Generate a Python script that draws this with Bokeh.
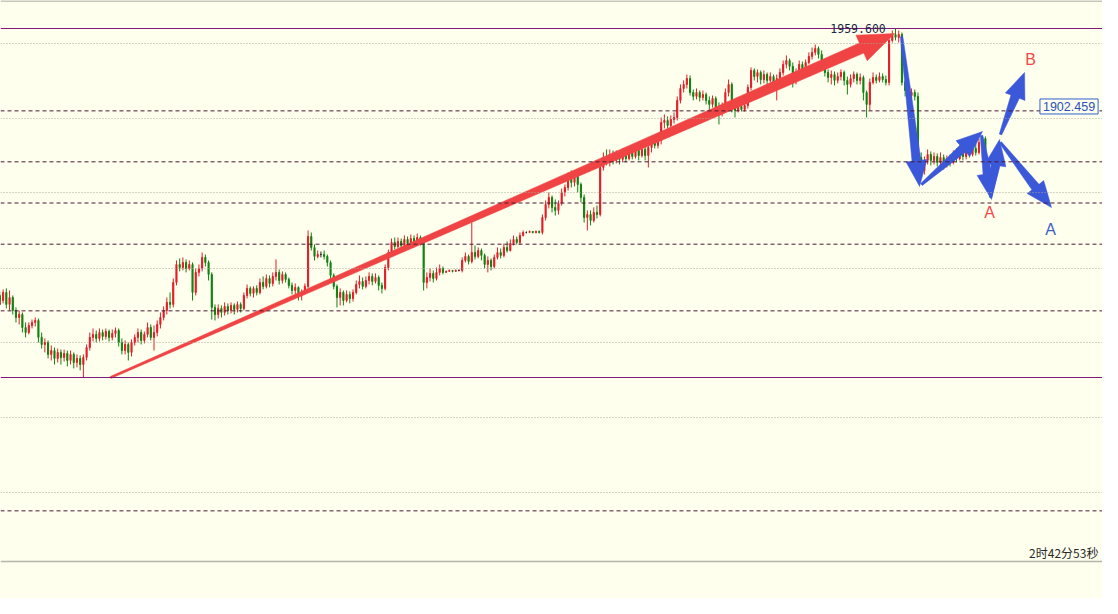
import numpy as np
from bokeh.plotting import figure
from bokeh.models import ColumnDataSource, Span, Label, Range1d
from bokeh.embed import file_html
from bokeh.resources import INLINE

# ---------------- data ----------------
opens = [
    1773.0, 1768.2, 1774.4, 1770.9, 1776.5, 1768.2, 1773.0, 1764.0, 1759.1, 1761.2,
    1752.2, 1748.7, 1753.6, 1755.7, 1757.1, 1745.3, 1740.4, 1741.8, 1733.5, 1736.2,
    1730.7, 1734.9, 1731.4, 1734.2, 1729.3, 1733.5, 1727.9, 1730.7, 1726.5, 1731.4,
    1738.3, 1745.3, 1747.4, 1744.6, 1748.7, 1746.0, 1749.4, 1745.3, 1748.0, 1750.1,
    1741.8, 1736.2, 1740.4, 1734.9, 1741.8, 1745.3, 1748.7, 1743.2, 1747.4, 1752.2,
    1745.3, 1748.7, 1754.3, 1759.1, 1764.0, 1769.6, 1768.2, 1783.4, 1795.9, 1793.8,
    1797.3, 1793.1, 1795.9, 1776.5, 1790.4, 1793.1, 1800.8, 1797.3, 1789.0, 1766.1,
    1761.2, 1765.4, 1762.6, 1766.8, 1764.0, 1767.5, 1764.7, 1768.2, 1765.4, 1774.4,
    1779.3, 1775.8, 1779.3, 1776.5, 1783.4, 1780.7, 1786.2, 1782.7, 1787.6, 1790.4,
    1784.8, 1789.0, 1785.5, 1781.4, 1777.9, 1780.0, 1774.4, 1776.5, 1780.7, 1815.3,
    1807.7, 1801.5, 1802.8, 1802.8, 1801.5, 1797.3, 1788.3, 1780.7, 1773.0, 1776.5,
    1770.9, 1775.1, 1772.3, 1776.5, 1782.0, 1784.1, 1780.7, 1784.8, 1787.6, 1784.1,
    1786.9, 1781.4, 1779.3, 1793.8, 1804.2, 1811.2, 1808.4, 1811.9, 1809.1, 1813.3,
    1810.5, 1813.9, 1811.2, 1814.6, 1811.9, 1783.4, 1786.9, 1789.7, 1786.2, 1790.4,
    1793.1, 1790.4, 1791.1, 1791.8, 1791.1, 1791.8, 1791.8, 1798.7, 1801.5, 1798.0,
    1804.2, 1801.5, 1805.6, 1802.2, 1795.9, 1798.7, 1794.5, 1800.8, 1804.2, 1802.2,
    1807.7, 1805.6, 1810.5, 1813.3, 1811.2, 1816.0, 1818.1, 1818.1, 1818.8, 1818.1,
    1818.8, 1818.1, 1828.5, 1837.5, 1842.4, 1835.5, 1833.4, 1838.2, 1845.9, 1849.3,
    1856.3, 1852.8, 1856.9, 1851.4, 1842.4, 1828.5, 1830.6, 1826.4, 1832.0, 1830.6,
    1863.2, 1870.1, 1866.7, 1872.2, 1868.1, 1871.5, 1868.8, 1872.2, 1869.4, 1873.6,
    1870.8, 1875.0, 1871.5, 1875.7, 1871.5, 1877.1, 1880.5, 1878.5, 1881.9, 1894.4,
    1895.8, 1892.3, 1896.5, 1897.9, 1909.7, 1918.0, 1920.8, 1924.9, 1915.2, 1912.5,
    1915.2, 1911.8, 1913.8, 1909.7, 1906.9, 1911.1, 1904.8, 1901.4, 1905.5, 1915.2,
    1920.8, 1904.8, 1902.7, 1905.5, 1903.4, 1906.2, 1918.7, 1930.5, 1926.3, 1929.1,
    1924.2, 1927.7, 1923.6, 1926.3, 1922.2, 1924.9, 1929.1, 1934.7, 1937.4, 1933.3,
    1923.6, 1929.1, 1934.7, 1930.5, 1936.0, 1940.2, 1943.0, 1945.8, 1941.6, 1934.7,
    1929.1, 1925.6, 1927.7, 1923.6, 1926.3, 1929.1, 1923.6, 1920.8, 1924.9, 1927.7,
    1923.6, 1925.6, 1915.2, 1906.9, 1922.2, 1925.6, 1923.6, 1926.3, 1924.2, 1922.2,
    1951.3, 1955.5, 1953.4, 1955.5, 1922.2, 1916.6, 1913.1, 1915.2, 1912.5, 1870.1,
    1861.1, 1868.1, 1872.2, 1868.1, 1870.8, 1866.7, 1870.1, 1865.3, 1869.4, 1866.7,
    1872.2, 1869.4, 1873.6, 1870.8, 1875.0, 1872.2, 1876.4, 1873.6, 1880.5, 1883.3,
]
highs = [
    1777.9, 1776.5, 1777.2, 1778.6, 1779.3, 1777.9, 1774.4, 1766.1, 1764.0, 1762.6,
    1755.7, 1755.7, 1757.7, 1759.1, 1758.4, 1748.7, 1744.6, 1743.2, 1739.7, 1738.3,
    1737.6, 1736.9, 1736.9, 1736.2, 1736.2, 1734.9, 1733.5, 1732.8, 1733.5, 1740.4,
    1748.7, 1751.5, 1750.1, 1751.5, 1750.8, 1751.5, 1750.8, 1750.8, 1752.2, 1751.5,
    1744.6, 1743.2, 1741.8, 1743.9, 1747.4, 1751.5, 1750.8, 1749.4, 1755.7, 1754.3,
    1753.6, 1757.1, 1762.6, 1766.8, 1773.0, 1776.5, 1786.2, 1798.7, 1800.1, 1800.8,
    1799.4, 1798.7, 1797.3, 1793.1, 1795.9, 1804.2, 1802.8, 1798.7, 1790.4, 1768.2,
    1768.2, 1767.5, 1769.6, 1768.9, 1769.6, 1768.9, 1770.2, 1769.6, 1776.5, 1782.0,
    1780.7, 1780.7, 1781.4, 1786.2, 1787.6, 1789.0, 1788.3, 1790.4, 1799.4, 1792.4,
    1791.1, 1790.4, 1786.9, 1783.4, 1782.7, 1780.7, 1778.6, 1782.7, 1819.5, 1818.1,
    1809.8, 1805.6, 1804.9, 1805.6, 1802.8, 1798.7, 1789.7, 1782.0, 1779.3, 1777.9,
    1777.9, 1777.2, 1778.6, 1784.8, 1788.3, 1786.9, 1787.6, 1790.4, 1789.7, 1789.7,
    1788.3, 1783.4, 1795.9, 1806.3, 1813.9, 1814.6, 1814.6, 1813.9, 1816.0, 1815.3,
    1816.7, 1816.0, 1817.4, 1816.0, 1813.3, 1790.4, 1793.1, 1791.8, 1793.8, 1795.9,
    1794.5, 1791.8, 1792.4, 1791.8, 1792.4, 1792.4, 1800.8, 1804.2, 1802.8, 1825.0,
    1809.1, 1807.7, 1807.0, 1803.5, 1801.5, 1800.1, 1802.8, 1807.7, 1807.0, 1810.5,
    1811.9, 1813.3, 1816.0, 1815.3, 1818.1, 1819.5, 1818.8, 1819.5, 1818.8, 1819.5,
    1819.5, 1830.6, 1840.3, 1845.9, 1843.8, 1841.0, 1840.3, 1848.6, 1851.4, 1859.7,
    1861.1, 1859.7, 1858.3, 1852.8, 1844.5, 1833.4, 1833.4, 1835.5, 1836.8, 1865.3,
    1873.6, 1875.7, 1875.7, 1875.0, 1875.0, 1874.3, 1876.4, 1875.0, 1877.1, 1877.8,
    1879.2, 1877.8, 1879.2, 1880.5, 1881.9, 1883.3, 1884.0, 1884.7, 1897.9, 1900.0,
    1898.6, 1899.3, 1901.4, 1912.5, 1920.8, 1923.6, 1927.7, 1927.0, 1917.3, 1918.0,
    1916.6, 1916.6, 1915.2, 1912.5, 1913.1, 1912.5, 1908.3, 1908.3, 1918.0, 1924.2,
    1922.2, 1908.3, 1907.6, 1906.9, 1907.6, 1920.8, 1932.6, 1931.9, 1931.2, 1930.5,
    1930.5, 1929.1, 1929.1, 1927.7, 1927.7, 1931.9, 1937.4, 1940.9, 1938.8, 1936.0,
    1931.9, 1937.4, 1936.7, 1938.1, 1943.0, 1946.4, 1948.5, 1947.1, 1944.4, 1936.0,
    1931.2, 1930.5, 1929.8, 1929.1, 1931.2, 1930.5, 1926.3, 1927.7, 1929.8, 1929.1,
    1928.4, 1927.0, 1916.6, 1924.9, 1929.1, 1927.7, 1929.1, 1928.4, 1927.0, 1953.4,
    1958.2, 1959.6, 1958.2, 1956.8, 1923.6, 1918.7, 1918.0, 1917.3, 1915.2, 1873.6,
    1870.8, 1875.7, 1874.3, 1873.6, 1872.9, 1873.6, 1872.2, 1871.5, 1872.2, 1875.0,
    1876.4, 1878.5, 1877.1, 1879.2, 1880.5, 1880.5, 1879.9, 1883.3, 1885.4, 1884.7,
]
lows = [
    1764.0, 1766.1, 1768.2, 1768.9, 1765.4, 1764.0, 1761.2, 1755.7, 1754.3, 1748.7,
    1745.3, 1747.4, 1751.5, 1752.9, 1741.8, 1737.6, 1734.9, 1730.7, 1729.3, 1726.5,
    1727.9, 1726.5, 1728.6, 1725.2, 1726.5, 1723.8, 1724.5, 1722.4, 1717.5, 1729.3,
    1736.2, 1742.5, 1741.8, 1742.5, 1743.2, 1743.9, 1742.5, 1743.2, 1745.3, 1739.0,
    1733.5, 1733.5, 1729.3, 1732.1, 1739.7, 1741.8, 1740.4, 1741.1, 1745.3, 1743.2,
    1736.2, 1746.0, 1751.5, 1757.1, 1761.2, 1765.4, 1766.1, 1781.4, 1791.1, 1791.8,
    1790.4, 1791.8, 1770.9, 1774.4, 1787.6, 1791.1, 1794.5, 1784.8, 1757.7, 1757.1,
    1758.4, 1759.1, 1760.5, 1761.2, 1761.9, 1761.2, 1762.6, 1762.6, 1764.0, 1772.3,
    1773.7, 1773.0, 1774.4, 1775.1, 1778.6, 1779.3, 1780.0, 1780.7, 1784.8, 1782.0,
    1782.7, 1783.4, 1779.3, 1775.1, 1775.1, 1770.9, 1770.9, 1775.1, 1779.3, 1805.6,
    1798.7, 1800.1, 1800.8, 1799.4, 1794.5, 1785.5, 1778.6, 1766.1, 1767.5, 1767.5,
    1769.6, 1768.9, 1770.2, 1775.1, 1779.3, 1778.6, 1779.3, 1782.0, 1781.4, 1782.7,
    1777.9, 1775.8, 1777.9, 1791.8, 1802.8, 1806.3, 1807.0, 1807.0, 1807.0, 1808.4,
    1809.1, 1807.7, 1809.8, 1809.1, 1777.9, 1779.3, 1784.1, 1783.4, 1784.8, 1788.3,
    1789.0, 1790.4, 1791.1, 1790.4, 1791.1, 1791.1, 1790.4, 1797.3, 1795.9, 1796.6,
    1799.4, 1800.1, 1798.7, 1793.1, 1790.4, 1791.8, 1793.1, 1799.4, 1800.1, 1800.8,
    1804.2, 1804.9, 1809.1, 1809.8, 1809.8, 1815.3, 1817.4, 1818.1, 1817.4, 1817.4,
    1817.4, 1816.7, 1826.4, 1834.8, 1832.0, 1829.9, 1830.6, 1836.8, 1843.1, 1847.2,
    1849.3, 1850.0, 1845.9, 1838.9, 1825.0, 1819.5, 1823.0, 1825.0, 1827.8, 1829.2,
    1861.1, 1864.6, 1863.9, 1865.3, 1866.0, 1865.3, 1866.7, 1866.7, 1868.1, 1868.8,
    1869.4, 1868.1, 1870.1, 1868.1, 1863.2, 1873.6, 1876.4, 1876.4, 1879.2, 1890.3,
    1890.3, 1890.9, 1893.7, 1895.8, 1907.6, 1915.2, 1918.0, 1913.1, 1909.7, 1910.4,
    1909.0, 1909.7, 1906.9, 1902.7, 1904.8, 1901.4, 1893.0, 1898.6, 1902.7, 1912.5,
    1901.4, 1897.9, 1901.4, 1902.0, 1902.0, 1904.1, 1916.6, 1923.6, 1922.2, 1920.8,
    1921.5, 1920.8, 1922.2, 1918.7, 1909.7, 1922.2, 1927.0, 1931.9, 1930.5, 1918.7,
    1920.8, 1926.3, 1927.7, 1928.4, 1934.7, 1938.1, 1940.9, 1938.8, 1932.6, 1926.3,
    1922.2, 1920.8, 1920.1, 1921.5, 1923.6, 1920.1, 1913.8, 1918.7, 1922.2, 1920.8,
    1920.8, 1909.7, 1897.9, 1902.7, 1920.8, 1921.5, 1922.2, 1922.2, 1920.1, 1920.1,
    1949.9, 1951.3, 1949.9, 1920.1, 1912.5, 1910.4, 1908.3, 1909.7, 1868.1, 1856.3,
    1858.3, 1865.3, 1864.6, 1865.3, 1863.9, 1862.5, 1861.8, 1863.2, 1863.9, 1865.3,
    1866.7, 1868.1, 1868.1, 1868.8, 1870.1, 1870.8, 1871.5, 1872.2, 1877.8, 1861.8,
]
closes = [
    1768.2, 1774.4, 1770.9, 1776.5, 1768.2, 1773.0, 1764.0, 1759.1, 1761.2, 1752.2,
    1748.7, 1753.6, 1755.7, 1757.1, 1745.3, 1740.4, 1741.8, 1733.5, 1736.2, 1730.7,
    1734.9, 1731.4, 1734.2, 1729.3, 1733.5, 1727.9, 1730.7, 1726.5, 1731.4, 1738.3,
    1745.3, 1747.4, 1744.6, 1748.7, 1746.0, 1749.4, 1745.3, 1748.0, 1750.1, 1741.8,
    1736.2, 1740.4, 1734.9, 1741.8, 1745.3, 1748.7, 1743.2, 1747.4, 1752.2, 1745.3,
    1748.7, 1754.3, 1759.1, 1764.0, 1769.6, 1768.2, 1783.4, 1795.9, 1793.8, 1797.3,
    1793.1, 1795.9, 1776.5, 1790.4, 1793.1, 1800.8, 1797.3, 1789.0, 1766.1, 1761.2,
    1765.4, 1762.6, 1766.8, 1764.0, 1767.5, 1764.7, 1768.2, 1765.4, 1774.4, 1779.3,
    1775.8, 1779.3, 1776.5, 1783.4, 1780.7, 1786.2, 1782.7, 1787.6, 1790.4, 1784.8,
    1789.0, 1785.5, 1781.4, 1777.9, 1780.0, 1774.4, 1776.5, 1780.7, 1815.3, 1807.7,
    1801.5, 1802.8, 1802.8, 1801.5, 1797.3, 1788.3, 1780.7, 1773.0, 1776.5, 1770.9,
    1775.1, 1772.3, 1776.5, 1782.0, 1784.1, 1780.7, 1784.8, 1787.6, 1784.1, 1786.9,
    1781.4, 1779.3, 1793.8, 1804.2, 1811.2, 1808.4, 1811.9, 1809.1, 1813.3, 1810.5,
    1813.9, 1811.2, 1814.6, 1811.9, 1783.4, 1786.9, 1789.7, 1786.2, 1790.4, 1793.1,
    1790.4, 1791.1, 1791.8, 1791.1, 1791.8, 1791.8, 1798.7, 1801.5, 1798.0, 1804.2,
    1801.5, 1805.6, 1802.2, 1795.9, 1798.7, 1794.5, 1800.8, 1804.2, 1802.2, 1807.7,
    1805.6, 1810.5, 1813.3, 1811.2, 1816.0, 1818.1, 1818.1, 1818.8, 1818.1, 1818.8,
    1818.1, 1828.5, 1837.5, 1842.4, 1835.5, 1833.4, 1838.2, 1845.9, 1849.3, 1856.3,
    1852.8, 1856.9, 1851.4, 1842.4, 1828.5, 1830.6, 1826.4, 1832.0, 1830.6, 1863.2,
    1870.1, 1866.7, 1872.2, 1868.1, 1871.5, 1868.8, 1872.2, 1869.4, 1873.6, 1870.8,
    1875.0, 1871.5, 1875.7, 1871.5, 1877.1, 1880.5, 1878.5, 1881.9, 1894.4, 1895.8,
    1892.3, 1896.5, 1897.9, 1909.7, 1918.0, 1920.8, 1924.9, 1915.2, 1912.5, 1915.2,
    1911.8, 1913.8, 1909.7, 1906.9, 1911.1, 1904.8, 1901.4, 1905.5, 1915.2, 1920.8,
    1904.8, 1902.7, 1905.5, 1903.4, 1906.2, 1918.7, 1930.5, 1926.3, 1929.1, 1924.2,
    1927.7, 1923.6, 1926.3, 1922.2, 1924.9, 1929.1, 1934.7, 1937.4, 1933.3, 1923.6,
    1929.1, 1934.7, 1930.5, 1936.0, 1940.2, 1943.0, 1945.8, 1941.6, 1934.7, 1929.1,
    1925.6, 1927.7, 1923.6, 1926.3, 1929.1, 1923.6, 1920.8, 1924.9, 1927.7, 1923.6,
    1925.6, 1915.2, 1906.9, 1922.2, 1925.6, 1923.6, 1926.3, 1924.2, 1922.2, 1951.3,
    1955.5, 1953.4, 1955.5, 1922.2, 1916.6, 1913.1, 1915.2, 1912.5, 1870.1, 1861.1,
    1868.1, 1872.2, 1868.1, 1870.8, 1866.7, 1870.1, 1865.3, 1869.4, 1866.7, 1872.2,
    1869.4, 1873.6, 1870.8, 1875.0, 1872.2, 1876.4, 1873.6, 1880.5, 1883.3, 1866.7,
]

# Fibonacci retracement drawn on the chart
fib_high = 1959.6
fib_low = 1717.48
fib_ratios = [0.0, 0.236, 0.382, 0.5, 0.618, 0.809, 1.0, 1.382]
# the platform's dotted price grid
grid_levels = [1949.2, 1897.2, 1845.8, 1793.1, 1741.8, 1689.7, 1637.7]
panel_top_price = 1978.6
panel_bottom_price = 1589.9

# hand-drawn arrows: (start bar, start price) -> (tip bar, tip price)
red_arrow = (36.45, 1717.5, 280.7, 1956.1)
blue_x0 = [282.9, 289.1, 307.8, 310.6, 313.7, 313.7]
blue_y0 = [1954.0, 1851.4, 1885.4, 1842.4, 1886.1, 1880.5]
blue_x1 = [288.5, 308.1, 310.9, 313.4, 321.2, 329.6]
blue_y1 = [1850.0, 1888.1, 1841.0, 1882.6, 1929.1, 1835.4]

# wave labels
wave_text = ["B", "A", "A"]
wave_x = [323.1, 310.3, 329.3]
wave_y = [1938.1, 1832.0, 1820.2]
wave_color = ["#f04848", "#f04848", "#3f5cc0"]

# ---------------- figure ----------------
BG = "#ffffee"
SX = 3.21            # px per bar
SY = 1 / 0.6937      # px per price unit
W, H = 1102, 598
x_start = 7 / SX
y_top = 1979.02

p = figure(width=W, height=H, output_backend="svg", toolbar_location=None,
           x_range=Range1d(x_start, x_start + W / SX),
           y_range=Range1d(y_top - H / SY, y_top),
           x_axis_location=None, y_axis_location=None, min_border=0,
           background_fill_color=BG, border_fill_color=BG,
           outline_line_color=None)
p.xgrid.visible = False
p.ygrid.visible = False

for g in grid_levels:
    p.add_layout(Span(location=g, dimension="width", line_color="#a8a89c",
                      line_width=1, line_dash="1 2"))
for r in fib_ratios:
    lvl = fib_high - r * (fib_high - fib_low)
    if r in (0.0, 1.0):
        p.add_layout(Span(location=lvl, dimension="width", line_color="#80187a",
                          line_width=1.2))
    else:
        p.add_layout(Span(location=lvl, dimension="width", line_color="#4a1834",
                          line_width=1, line_dash="4 3"))
for lvl in (panel_top_price, panel_bottom_price):
    p.add_layout(Span(location=lvl, dimension="width", line_color="#b4b4a8",
                      line_width=1.5))

# ---------------- candles ----------------
o = np.array(opens); h = np.array(highs); l = np.array(lows); c = np.array(closes)
x = np.arange(len(c))
colors = np.where(c > o, "#e41e2a", np.where(c < o, "#128212", "#202020"))
src = ColumnDataSource(dict(x=x, h=h, l=l, top=np.maximum(o, c),
                            bottom=np.minimum(o, c), color=colors))
p.segment(x0="x", y0="h", x1="x", y1="l", line_color="color", line_width=1, source=src)
p.vbar(x="x", width=1.1 / SX, top="top", bottom="bottom", fill_color="color",
       line_color="color", line_width=1, source=src)


# ---------------- arrows ----------------
def arrow_poly(x0, y0, x1, y1, w0, w1, hl, hw):
    X0, Y0, X1, Y1 = x0 * SX, y0 * SY, x1 * SX, y1 * SY
    dx, dy = X1 - X0, Y1 - Y0
    L = (dx * dx + dy * dy) ** 0.5
    ux, uy = dx / L, dy / L
    nx, ny = -uy, ux
    bx, by = X1 - ux * hl, Y1 - uy * hl
    pts = [(X0 + nx * w0 / 2, Y0 + ny * w0 / 2),
           (bx + nx * w1 / 2, by + ny * w1 / 2),
           (bx + nx * hw / 2, by + ny * hw / 2),
           (X1, Y1),
           (bx - nx * hw / 2, by - ny * hw / 2),
           (bx - nx * w1 / 2, by - ny * w1 / 2),
           (X0 - nx * w0 / 2, Y0 - ny * w0 / 2)]
    return [q[0] / SX for q in pts], [q[1] / SY for q in pts]


rx, ry = arrow_poly(*red_arrow, 2.0, 11.0, 36.0, 28.0)
p.patch(rx, ry, fill_color="#f04444", line_color="#f04444", line_width=0.5)

for i in range(len(blue_x0)):
    bxs, bys = arrow_poly(blue_x0[i], blue_y0[i], blue_x1[i], blue_y1[i],
                          2.5, 9.0, 26.0, 21.0)
    p.patch(bxs, bys, fill_color="#3a58d8", line_color="#3a58d8", line_width=0.5)

# ---------------- texts ----------------
for t, tx, ty, tc in zip(wave_text, wave_x, wave_y, wave_color):
    p.add_layout(Label(x=tx, y=ty, text=t, text_color=tc, text_font="Liberation Sans",
                       text_font_size="16px", text_align="center",
                       text_baseline="middle"))

p.add_layout(Label(x=260.7, y=fib_high, text="1959.600", text_color="#1c2444",
                   text_font="DejaVu Sans Mono", text_font_size="11.5px",
                   text_align="left", text_baseline="middle"))

p.add_layout(Label(x=326.0, y=1905.5, text="1902.459", text_color="#2850b8",
                   text_font="Liberation Sans", text_font_size="12.5px",
                   text_align="left", text_baseline="middle",
                   border_line_color="#3060d0", border_line_width=1,
                   background_fill_color=BG, padding=3))

p.add_layout(Label(x=344.2, y=1596.1, text="2时42分53秒", text_color="#2a2a2a",
                   text_font="Noto Sans CJK SC", text_font_size="12px",
                   text_align="right", text_baseline="middle"))

open("out.html", "w").write(file_html(p, INLINE))
